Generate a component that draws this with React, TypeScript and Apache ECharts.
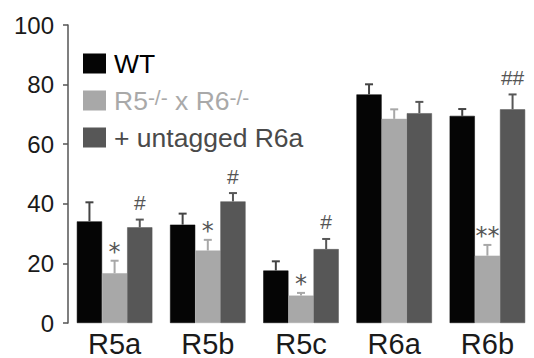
import React, { useEffect, useRef } from "react";
import * as echarts from "echarts";

const categories = ["R5a", "R5b", "R5c", "R6a", "R6b"];
const seriesNames = ["WT", "R5-/- x R6-/-", "+ untagged R6a"];
const wtValues = [34.1, 33.0, 17.6, 76.7, 69.5];
const wtErrTop = [40.5, 36.7, 20.7, 80.1, 71.8];
const koValues = [16.7, 24.3, 9.2, 68.5, 22.6];
const koErrTop = [20.9, 27.9, 10.1, 71.7, 26.2];
const rescueValues = [32.1, 40.8, 24.8, 70.4, 71.7];
const rescueErrTop = [34.7, 43.6, 28.2, 74.2, 76.7];
const wtMarks = ["", "", "", "", ""];
const koMarks = ["*", "*", "*", "", "**"];
const rescueMarks = ["#", "#", "#", "", "##"];
const yTicks = [0, 20, 40, 60, 80, 100];

const barColors = ["#050505", "#a8a8a8", "#575757"];
const errColors = ["#444444", "#a8a8a8", "#575757"];
const legendTextColors = ["#000000", "#a9a9a9", "#4a4a4a"];
const FONT = "'Liberation Sans', Arial, Helvetica, sans-serif";
const CAT_GAP = 0.19;

export default function App() {
  const ref = useRef<HTMLDivElement>(null);
  useEffect(() => {
    if (!ref.current) return;
    const chart = echarts.init(ref.current, undefined, { renderer: "svg" });
    const values = [wtValues, koValues, rescueValues];
    const errs = [wtErrTop, koErrTop, rescueErrTop];
    const marks = [wtMarks, koMarks, rescueMarks];

    const barSeries = seriesNames.map((name, i) => ({
      name,
      type: "bar",
      data: values[i],
      barGap: "0%",
      barCategoryGap: CAT_GAP * 100 + "%",
      itemStyle: { color: barColors[i], borderColor: barColors[i], borderWidth: 0.5 },
      z: 2,
    }));

    const errSeries = seriesNames.map((name, i) => ({
      name: name + "_err",
      type: "custom",
      z: 3,
      data: categories.map((_, k) => [k, values[i][k], errs[i][k], k]),
      renderItem: (params: any, api: any) => {
        const k = api.value(3);
        const band = api.size([1, 0])[0];
        const bw = (band * (1 - CAT_GAP)) / 3;
        const base = api.coord([api.value(0), api.value(1)]);
        const top = api.coord([api.value(0), api.value(2)]);
        const x = base[0] + (i - 1) * bw;
        const children: any[] = [
          {
            type: "line",
            shape: { x1: x, y1: base[1], x2: x, y2: top[1] },
            style: { stroke: errColors[i], lineWidth: 2 },
          },
          {
            type: "line",
            shape: { x1: x - 4, y1: top[1], x2: x + 4, y2: top[1] },
            style: { stroke: errColors[i], lineWidth: 2 },
          },
        ];
        const m = marks[i][k];
        if (m) {
          const isStar = m.indexOf("*") >= 0;
          children.push({
            type: "text",
            style: {
              text: m,
              x: x,
              y: top[1] - (isStar ? 9 : 17),
              textAlign: "center",
              textVerticalAlign: "middle",
              fontSize: isStar ? 24 : 21,
              fontFamily: isStar ? "'DejaVu Sans', sans-serif" : FONT,
              fill: "#555555",
            },
          });
        }
        return { type: "group", children };
      },
    }));

    chart.setOption({
      animation: false,
      grid: { left: 68, top: 25, bottom: 35, width: 475, containLabel: false },
      legend: {
        orient: "vertical",
        left: 78,
        top: 45,
        itemWidth: 21,
        itemHeight: 18,
        itemGap: 10,
        icon: "rect",
        selectedMode: false,
        textStyle: {
          fontSize: 26.5,
          fontFamily: FONT,
          padding: [0, 0, 0, 4],
          rich: {
            a: { fontSize: 26.5, fontFamily: FONT, color: legendTextColors[1] },
            s: { fontSize: 21, fontFamily: FONT, color: legendTextColors[1], verticalAlign: "top", padding: [0, 0, 4, 0] },
          },
        },
        formatter: (name: string) =>
          name === seriesNames[1] ? "{a|R5}{s|-/-}{a| x R6}{s|-/-}" : name,
        data: seriesNames.map((n, i) => ({ name: n, textStyle: { color: legendTextColors[i] } })),
      },
      xAxis: {
        type: "category",
        data: categories,
        axisLine: { show: false },
        axisTick: { show: false },
        axisLabel: { fontSize: 29, fontFamily: FONT, color: "#1a1a1a", margin: 6 },
      },
      yAxis: {
        type: "value",
        min: yTicks[0],
        max: yTicks[yTicks.length - 1],
        interval: 20,
        splitLine: { show: false },
        axisLine: { show: true, lineStyle: { color: "#555555", width: 1.5 } },
        axisTick: { show: true, length: 5, lineStyle: { color: "#555555", width: 1.5 } },
        axisLabel: { fontSize: 24, fontFamily: FONT, color: "#1a1a1a", margin: 14 },
      },
      series: [...barSeries, ...errSeries],
    });
    return () => chart.dispose();
  }, []);
  return (
    <div
      ref={ref}
      style={{ position: "fixed", left: 0, top: 0, width: 534, height: 358, background: "#fff" }}
    />
  );
}
